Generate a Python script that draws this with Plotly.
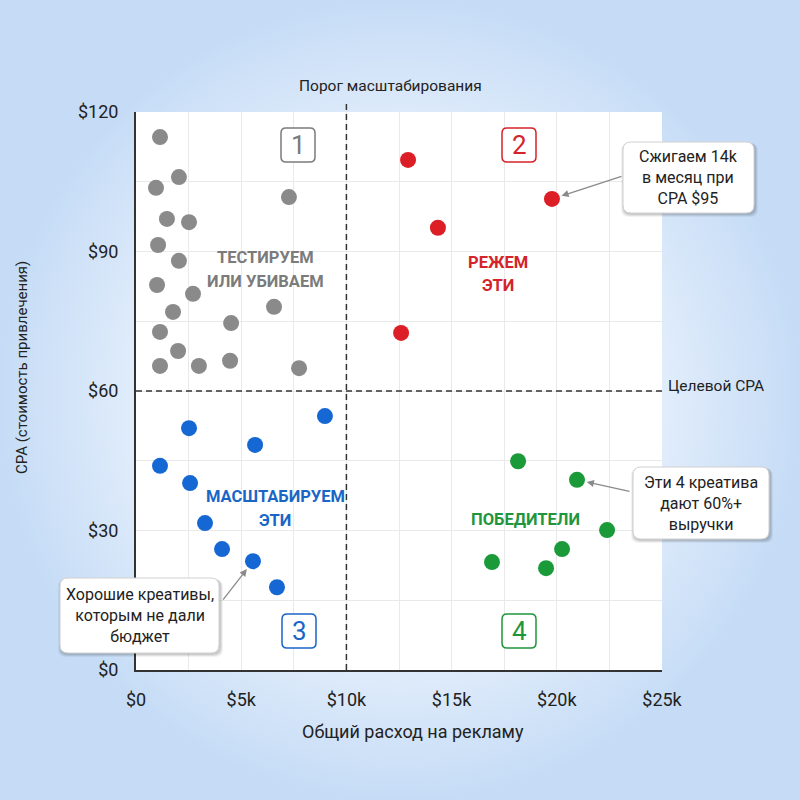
import plotly.graph_objects as go

W, H = 800, 800

# ---------------- data ----------------
# spend in $, CPA in $
test_spend = [1140, 2040, 950, 7270, 1470, 2520, 1050, 2040, 1000, 2710,
              1760, 1140, 4520, 6560, 2000, 1140, 2990, 4470, 7750]
test_cpa = [114.6, 106.0, 103.7, 101.7, 97.0, 96.3, 91.4, 88.0, 82.8, 80.9,
            77.0, 72.7, 74.6, 78.1, 68.6, 65.4, 65.4, 66.5, 64.9]

cut_spend = [12930, 19770, 14350, 12600]
cut_cpa = [109.7, 101.3, 95.1, 72.5]

scale_spend = [2520, 5660, 1140, 2570, 3280, 4090, 5560, 6700, 8980]
scale_cpa = [52.0, 48.4, 43.9, 40.2, 31.6, 26.0, 23.4, 17.8, 54.6]

win_spend = [18160, 20960, 22390, 20250, 16920, 19490]
win_cpa = [44.9, 40.9, 30.1, 26.0, 23.2, 21.9]

SCALE_THRESHOLD = 10000
TARGET_CPA = 60

x_tickvals = [0, 5000, 10000, 15000, 20000, 25000]
x_ticktext = ["$0", "$5k", "$10k", "$15k", "$20k", "$25k"]
y_tickvals = [0, 30, 60, 90, 120]
y_ticktext = ["$0", "$30", "$60", "$90", "$120"]

GRAY, RED, BLUE, GREEN = "#8a8a8a", "#dc1f26", "#1567d3", "#1b9a3a"
GRAY_T, RED_T, BLUE_T, GREEN_T = "#7b7b7b", "#d4242a", "#1a66c6", "#1f963d"
FONT = "Roboto, 'Liberation Sans', sans-serif"
TXT = "#222222"


def fx(px):
    return px / W


def fy(py):
    return 1 - py / H


def rrect(x0, y0, x1, y1, r):
    pts = [
        f"M{fx(x0 + r)},{fy(y0)}",
        f"L{fx(x1 - r)},{fy(y0)}",
        f"Q{fx(x1)},{fy(y0)} {fx(x1)},{fy(y0 + r)}",
        f"L{fx(x1)},{fy(y1 - r)}",
        f"Q{fx(x1)},{fy(y1)} {fx(x1 - r)},{fy(y1)}",
        f"L{fx(x0 + r)},{fy(y1)}",
        f"Q{fx(x0)},{fy(y1)} {fx(x0)},{fy(y1 - r)}",
        f"L{fx(x0)},{fy(y0 + r)}",
        f"Q{fx(x0)},{fy(y0)} {fx(x0 + r)},{fy(y0)}",
        "Z",
    ]
    return " ".join(pts)


def label(x, y, text, size, color, xref="paper", yref="paper", **kw):
    d = dict(xref=xref, yref=yref, x=x, y=y, text=text, showarrow=False,
             xanchor="center", yanchor="middle", align="center",
             font=dict(family=FONT, size=size, color=color))
    d.update(kw)
    return d


fig = go.Figure()

# background gradient on a full-canvas helper subplot
fig.add_trace(go.Scatter(
    x=[0, 1, 1, 0, 0], y=[0, 0, 1, 1, 0], mode="lines", fill="toself",
    fillgradient=dict(type="radial",
                      colorscale=[[0, "#ffffff"], [0.45, "#f1f7fe"], [1, "#c6dcf6"]]),
    line=dict(width=0), hoverinfo="skip", showlegend=False,
    xaxis="x", yaxis="y",
))

for xs, ys, c in [(test_spend, test_cpa, GRAY), (cut_spend, cut_cpa, RED),
                  (scale_spend, scale_cpa, BLUE), (win_spend, win_cpa, GREEN)]:
    fig.add_trace(go.Scatter(
        x=xs, y=ys, mode="markers", xaxis="x2", yaxis="y2",
        marker=dict(size=16, color=c, line=dict(width=0)),
        showlegend=False, hoverinfo="x+y",
    ))

shapes = []
annotations = []

# plot border
shapes.append(dict(type="rect", xref="x2 domain", yref="y2 domain", x0=0, x1=1, y0=0, y1=1,
                   line=dict(color="#8f8f8f", width=1.5), layer="below"))
# threshold lines
shapes.append(dict(type="line", xref="x2", yref="paper", x0=SCALE_THRESHOLD, x1=SCALE_THRESHOLD,
                   y0=fy(670), y1=fy(103), line=dict(color="#333333", width=1.5, dash="6px,4px"),
                   layer="above"))
shapes.append(dict(type="line", xref="paper", yref="y2", x0=fx(136), x1=fx(665),
                   y0=TARGET_CPA, y1=TARGET_CPA, line=dict(color="#333333", width=1.5, dash="6px,4px"),
                   layer="above"))

annotations.append(label(fx(390), fy(86), "Порог масштабирования", 15.5, TXT))
annotations.append(label(fx(666), TARGET_CPA, "Целевой CPA", 15.5, TXT, yref="y2",
                         xanchor="left", yshift=5))

# quadrant number boxes
for num, cx, cy, col in [("1", 298, 145, GRAY_T), ("2", 519, 145, RED_T),
                         ("3", 299, 631, BLUE_T), ("4", 519, 631, GREEN_T)]:
    shapes.append(dict(type="path", xref="paper", yref="paper",
                       path=rrect(cx - 17, cy - 17, cx + 17, cy + 17, 5),
                       fillcolor="white", line=dict(color=col, width=1.5), layer="above"))
    annotations.append(label(fx(cx), fy(cy), num, 26, col))

# quadrant labels (one annotation per line to match the line spacing)
for lines, cx, cy0, col in [(["ТЕСТИРУЕМ", "ИЛИ УБИВАЕМ"], 265, 257, GRAY_T),
                            (["РЕЖЕМ", "ЭТИ"], 498, 262, RED_T),
                            (["МАСШТАБИРУЕМ", "ЭТИ"], 275, 496, BLUE_T),
                            (["ПОБЕДИТЕЛИ"], 525, 519, GREEN_T)]:
    for i, ln in enumerate(lines):
        annotations.append(label(fx(cx), fy(cy0 + 24 * i), f"<b>{ln}</b>", 16.5, col))

# callouts
callouts = [
    ("Сжигаем 14k<br>в месяц при<br>CPA $95", (623, 142, 754, 213)),
    ("Эти 4 креатива<br>дают 60%+<br>выручки", (633, 467, 769, 539)),
    ("Хорошие креативы,<br>которым не дали<br>бюджет", (60, 578, 219, 653)),
]
for txt, (x0, y0, x1, y1) in callouts:
    for k, a in [(3, 0.05), (2, 0.07), (1, 0.09)]:
        shapes.append(dict(type="path", xref="paper", yref="paper",
                           path=rrect(x0 - k + 1, y0 + 1, x1 + k + 1, y1 + k + 1, 8),
                           fillcolor=f"rgba(0,0,0,{a})", line=dict(width=0), layer="above"))
    shapes.append(dict(type="path", xref="paper", yref="paper", path=rrect(x0, y0, x1, y1, 8),
                       fillcolor="white", line=dict(color="#d0d0d0", width=1), layer="above"))
    annotations.append(label(fx((x0 + x1) / 2), fy((y0 + y1) / 2), txt, 16, TXT))

# arrows pointing to the highlighted points
for px, py, ax, ay in [(cut_spend[1], cut_cpa[1], 71, -23),
                       (win_spend[1], win_cpa[1], 54, 12),
                       (scale_spend[6], scale_cpa[6], -31, 40)]:
    annotations.append(dict(xref="x2", yref="y2", x=px, y=py, ax=ax, ay=ay, text="",
                            showarrow=True, arrowhead=2, arrowsize=1.1, arrowwidth=1.3,
                            arrowcolor="#8a8a8a", standoff=10))

# axis titles
annotations.append(label(fx(413), fy(731), "Общий расход на рекламу", 18, TXT))
annotations.append(label(fx(22), fy(368), "CPA (стоимость привлечения)", 15, TXT,
                         textangle=-90))

grid_col = "#e9e9e9"
tickfont = dict(size=18, color=TXT, family=FONT)
fig.update_layout(
    width=W, height=H, autosize=False,
    margin=dict(l=0, r=0, t=0, b=0, pad=0, autoexpand=False),
    paper_bgcolor="#e6effb", plot_bgcolor="white",
    font=dict(family=FONT, color=TXT),
    showlegend=False,
    xaxis=dict(domain=[0, 1], range=[0, 1], visible=False, fixedrange=True, automargin=False),
    yaxis=dict(domain=[0, 1], range=[0, 1], visible=False, fixedrange=True, automargin=False),
    xaxis2=dict(domain=[fx(136), fx(662)], anchor="y2", range=[0, 25000], automargin=False,
                tickmode="array", tickvals=x_tickvals, ticktext=x_ticktext,
                showgrid=True, gridcolor=grid_col, zeroline=False,
                minor=dict(tickmode="linear", tick0=0, dtick=2500, showgrid=True, gridcolor=grid_col),
                showline=True, linecolor="#333333", linewidth=2,
                ticks="", ticklabelstandoff=12, tickfont=tickfont),
    yaxis2=dict(domain=[fy(670), fy(112)], anchor="x2", range=[0, 120], automargin=False,
                tickmode="array", tickvals=y_tickvals, ticktext=y_ticktext,
                showgrid=True, gridcolor=grid_col, zeroline=False,
                minor=dict(tickmode="linear", tick0=0, dtick=15, showgrid=True, gridcolor=grid_col),
                showline=True, linecolor="#333333", linewidth=2,
                ticks="", ticklabelstandoff=12, tickfont=tickfont),
    shapes=shapes, annotations=annotations,
)

fig.write_html("out.html", config={"displayModeBar": False},
               post_script="document.body.style.margin='0px';document.body.style.overflow='hidden';")
